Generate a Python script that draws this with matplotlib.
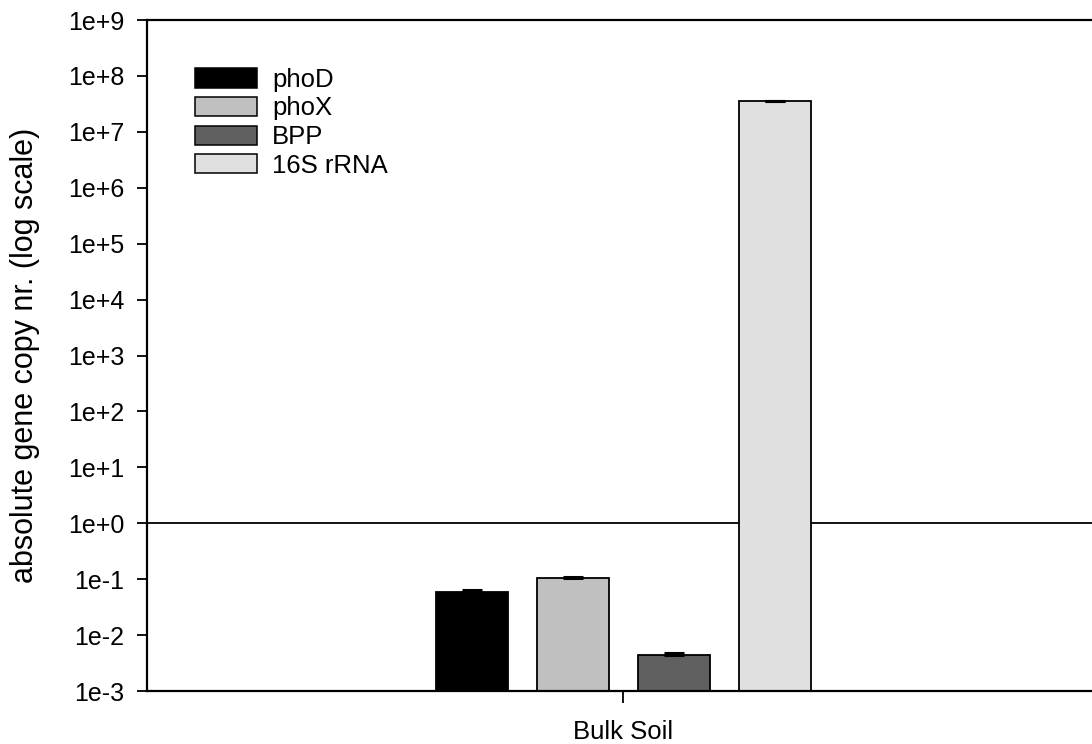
import numpy as np
import matplotlib.pyplot as plt
from matplotlib.patches import Patch

plt.rcParams['font.family'] = ['Liberation Sans', 'DejaVu Sans']

genes = ['phoD', 'phoX', 'BPP', '16S rRNA']
values = [0.059, 0.105, 0.0044, 3.5e7]
errors = [0.004, 0.004, 0.0004, 1.2e6]
colors = ['#000000', '#c0c0c0', '#606060', '#e0e0e0']
group = 'Bulk Soil'
ytick_exps = list(range(-3, 10))


def plot_genes():
    fig = plt.figure(figsize=(10.92, 7.44), dpi=100)
    ax = fig.add_axes([0.1346, 0.0712, 0.872, 0.9019])

    width = 0.072
    step = 0.101
    offsets = (np.arange(len(genes)) - 1.5) * step
    for off, val, err, col in zip(offsets, values, errors, colors):
        ax.bar(off, val - 1e-3, bottom=1e-3, width=width, color=col,
               edgecolor='black', linewidth=1.3, zorder=2)
        ax.errorbar(off, val, yerr=[[0], [err]], fmt='none', ecolor='black',
                    elinewidth=1.2, capsize=7.5, capthick=2.2, zorder=3)

    ax.set_yscale('log')
    ax.set_ylim(1e-3, 1e9)
    ax.set_xlim(-0.476, 0.476)
    ax.set_yticks([10.0 ** e for e in ytick_exps])
    ax.set_yticklabels(['1e%+d' % e for e in ytick_exps])
    ax.yaxis.set_minor_locator(plt.NullLocator())
    ax.set_xticks([0])
    ax.set_xticklabels([group])

    ax.axhline(1, color='black', linewidth=1.3, zorder=1)
    ax.spines['right'].set_visible(False)
    for s in ['left', 'bottom', 'top']:
        ax.spines[s].set_linewidth(1.6)

    ax.tick_params(axis='y', direction='out', length=7.2, width=1.3,
                   labelsize=18, pad=9)
    ax.tick_params(axis='x', direction='out', length=8.6, width=1.3,
                   labelsize=18.5, pad=12.5)
    ax.set_ylabel('absolute gene copy nr. (log scale)', fontsize=22)
    ax.yaxis.set_label_coords(-0.112, 0.5)

    handles = [Patch(facecolor=c, edgecolor='black', linewidth=1.1) for c in colors]
    ax.legend(handles, genes, loc='upper left', bbox_to_anchor=(0.0395, 0.944),
              frameon=False, fontsize=18.5, handlelength=2.4, handleheight=0.78,
              labelspacing=0.18, handletextpad=0.6, borderaxespad=0)

    fig.savefig('out.png', dpi=100)


def main():
    plot_genes()


if __name__ == '__main__':
    main()
